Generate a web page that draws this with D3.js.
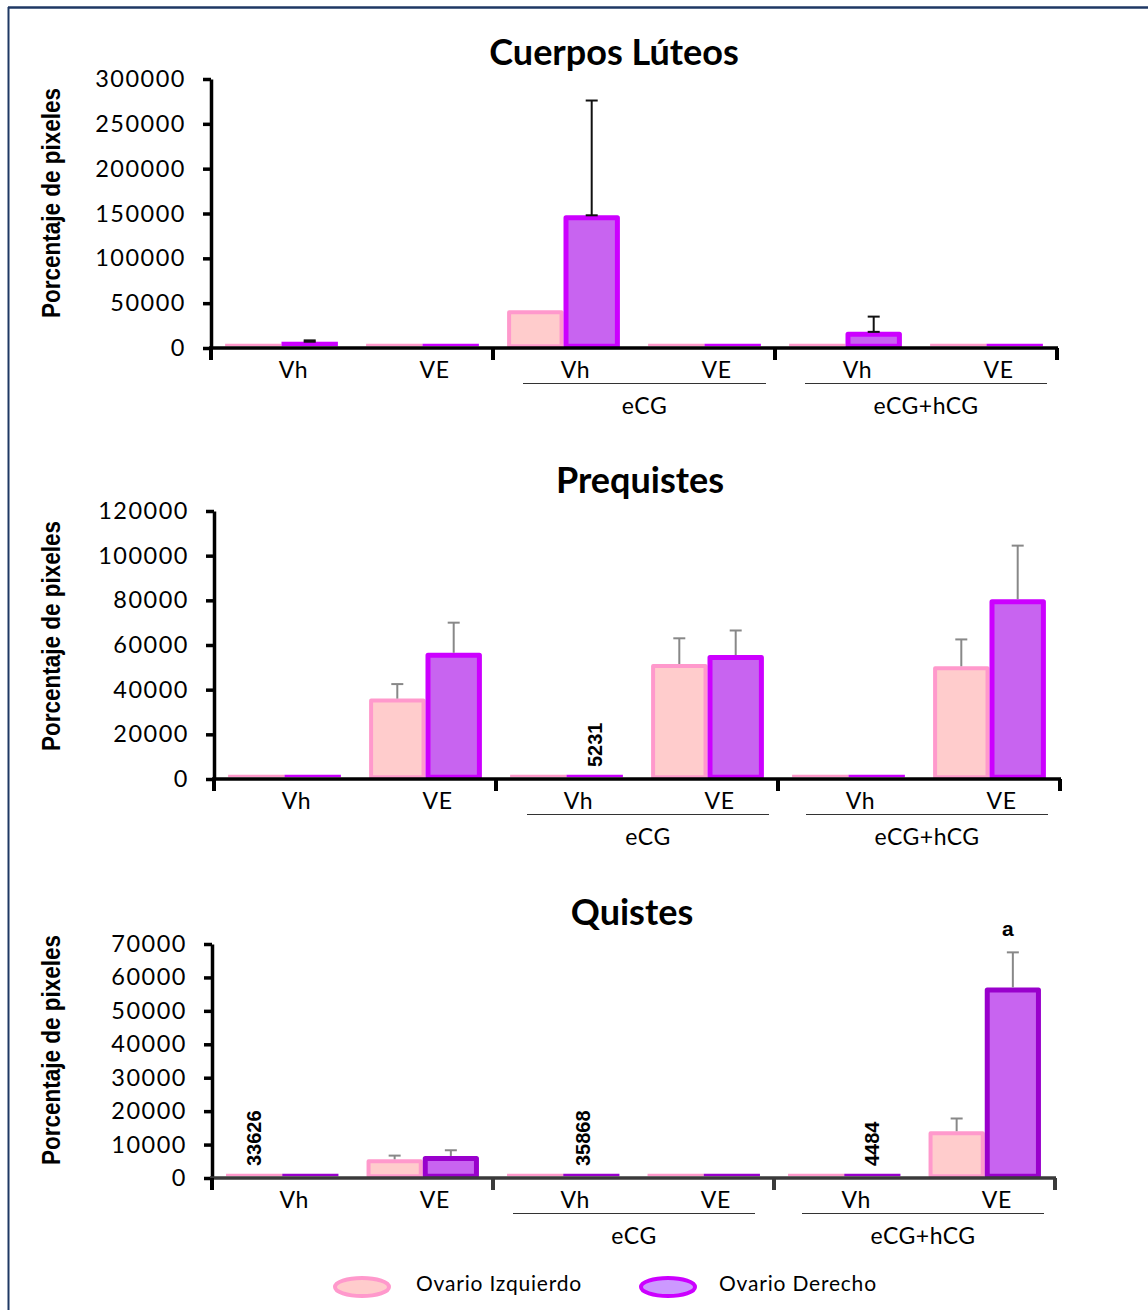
<!DOCTYPE html>
<html><head><meta charset="utf-8">
<script src="https://cdn.jsdelivr.net/npm/d3@7"></script>
<style>
body{margin:0;background:#fff;}
svg{display:block;}
</style></head>
<body>
<svg id="chart" width="1148" height="1310"></svg>
<script>
// ---------- DATA ----------
const groups = ["", "eCG", "eCG+hCG"];
const subCategories = ["Vh", "VE"];
const seriesNames = ["Ovario Izquierdo", "Ovario Derecho"];

// Cuerpos Lúteos
const cuerposIzq    = [300, 300, 42000, 300, 3000, 300];
const cuerposDer    = [7000, 500, 148000, 500, 18000, 500];
const cuerposIzqErr = [0, 0, 0, 0, 0, 0];
const cuerposDerErr = [1500, 0, 128000, 0, 17000, 0];
const cuerposTicks  = [0, 50000, 100000, 150000, 200000, 250000, 300000];

// Prequistes
const prequistesIzq    = [300, 36000, 300, 51500, 300, 50500];
const prequistesDer    = [300, 56500, 300, 55500, 300, 80500];
const prequistesIzqErr = [0, 6500, 0, 11500, 0, 12000];
const prequistesDerErr = [0, 13500, 0, 11000, 0, 24000];
const prequistesTicks  = [0, 20000, 40000, 60000, 80000, 100000, 120000];
const prequistesNotes  = [{cat: 2, s: 1, text: "5231"}];

// Quistes
const quistesIzq    = [150, 5600, 150, 150, 150, 14000];
const quistesDer    = [150, 6600, 150, 150, 150, 57000];
const quistesIzqErr = [0, 1100, 0, 0, 0, 3800];
const quistesDerErr = [0, 1700, 0, 0, 0, 10500];
const quistesTicks  = [0, 10000, 20000, 30000, 40000, 50000, 60000, 70000];
const quistesNotes  = [{cat: 0, s: 0, text: "33626"}, {cat: 2, s: 1, text: "35868", dx: -8}, {cat: 4, s: 1, text: "4484"}];
const quistesLetters = [{cat: 5, s: 1, text: "a"}];

// ---------- DRAW ----------
const svg = d3.select("#chart");
const FONT = "Lato, 'Open Sans', sans-serif";
const NARROW = "'Liberation Sans Narrow', 'Arial Narrow', 'Liberation Sans', sans-serif";

// frame
svg.append("line").attr("x1", 8).attr("x2", 1148).attr("y1", 7.5).attr("y2", 7.5)
  .attr("stroke", "#1f3864").attr("stroke-width", 2.5);
svg.append("line").attr("x1", 8.5).attr("x2", 8.5).attr("y1", 7).attr("y2", 1310)
  .attr("stroke", "#1f3864").attr("stroke-width", 2);

const catKeys = [];
groups.forEach((g, gi) => subCategories.forEach(s => catKeys.push(gi + "|" + s)));

function drawChart(cfg) {
  const g = svg.append("g");
  const x = d3.scaleBand().domain(catKeys).range([cfg.x0, cfg.x1]).padding(0);
  const xs = d3.scaleBand().domain([0, 1]).range([0, x.bandwidth()]).paddingInner(0).paddingOuter(0.25);
  const y = d3.scaleLinear().domain([0, cfg.max]).range([cfg.y0, cfg.yTop]);

  // title
  g.append("text").attr("x", cfg.titleX).attr("y", cfg.titleY).attr("text-anchor", "middle")
    .attr("font-family", FONT).attr("font-weight", "bold").attr("font-size", 36)
    .attr("fill", "#000").text(cfg.title);

  // y label
  g.append("text").attr("transform", `translate(${cfg.ylabX},${cfg.ylabY}) rotate(-90)`)
    .attr("text-anchor", "middle").attr("font-family", NARROW).attr("font-weight", "bold")
    .attr("font-size", 25).attr("textLength", 230).attr("lengthAdjust", "spacingAndGlyphs")
    .attr("fill", "#000").text("Porcentaje de pixeles");

  const colors = [
    {fill: "#ffcccc", stroke: "#ff99cc"},
    {fill: "#c864f0", stroke: cfg.derStroke}
  ];
  const vals = [cfg.izq, cfg.der];
  const errs = [cfg.izqErr, cfg.derErr];

  // bars
  [0, 1].forEach(si => {
    const sw = cfg.sw[si];
    const base = cfg.y0 - 1.75;
    vals[si].forEach((d, i) => {
      const bx = x(catKeys[i]) + xs(si);
      const top = y(d);
      if (base - top < sw + 2) {
        // near-zero value: thin outline sitting on the axis
        g.append("rect").attr("x", bx).attr("y", Math.min(top, base - 2.5))
          .attr("width", xs.bandwidth()).attr("height", base - Math.min(top, base - 2.5))
          .attr("fill", colors[si].stroke);
      } else {
        g.append("rect")
          .attr("x", bx + sw / 2).attr("y", top + sw / 2)
          .attr("width", xs.bandwidth() - sw)
          .attr("height", base - top - sw / 2)
          .attr("fill", colors[si].fill).attr("stroke", colors[si].stroke)
          .attr("stroke-width", sw).attr("stroke-linejoin", "round");
      }
    });
  });

  // error bars
  [0, 1].forEach(si => {
    vals[si].forEach((v, i) => {
      const e = errs[si][i];
      if (!e) return;
      const cx = x(catKeys[i]) + xs(si) + xs.bandwidth() / 2;
      g.append("line").attr("x1", cx).attr("x2", cx).attr("y1", y(v)).attr("y2", y(v + e))
        .attr("stroke", cfg.errColor).attr("stroke-width", 2);
      g.append("line").attr("x1", cx - 6).attr("x2", cx + 6).attr("y1", y(v + e)).attr("y2", y(v + e))
        .attr("stroke", cfg.errColor).attr("stroke-width", 2);
      if (cfg.lowerCap) {
        g.append("line").attr("x1", cx - 6).attr("x2", cx + 6).attr("y1", y(v)).attr("y2", y(v))
          .attr("stroke", cfg.errColor).attr("stroke-width", 2);
      }
    });
  });

  // y axis
  const yAxis = g.append("g").attr("transform", `translate(${cfg.x0},0)`)
    .call(d3.axisLeft(y).tickValues(cfg.ticks).tickFormat(d3.format("d")).tickSize(8).tickSizeOuter(0).tickPadding(17));
  yAxis.select(".domain").attr("stroke", "#000").attr("stroke-width", 3.5);
  yAxis.selectAll(".tick line").attr("stroke", "#000").attr("stroke-width", 3.5);
  yAxis.selectAll(".tick text").attr("font-family", FONT).attr("font-size", 23.5)
    .attr("letter-spacing", "1.5px").attr("fill", "#000");

  // x axis line
  g.append("line").attr("x1", cfg.x0 - 2).attr("x2", cfg.x1 + 1).attr("y1", cfg.y0).attr("y2", cfg.y0)
    .attr("stroke", cfg.xAxisColor).attr("stroke-width", 3.5);
  // group boundary ticks
  const gw = (cfg.x1 - cfg.x0) / groups.length;
  d3.range(groups.length + 1).forEach(k => {
    const tx = cfg.x0 + k * gw;
    g.append("line").attr("x1", tx).attr("x2", tx).attr("y1", cfg.y0).attr("y2", cfg.y0 + 12)
      .attr("stroke", k === 0 ? "#000" : cfg.xAxisColor).attr("stroke-width", 4);
  });

  // subcategory labels
  catKeys.forEach(k => {
    g.append("text").attr("x", x(k) + x.bandwidth() / 2 + 12).attr("y", cfg.y0 + 30)
      .attr("text-anchor", "middle").attr("font-family", FONT).attr("font-size", 23)
      .attr("letter-spacing", "0.5px").attr("fill", "#000").text(k.split("|")[1]);
  });

  // group labels and lines
  groups.forEach((name, gi) => {
    if (!name) return;
    const gs = cfg.x0 + gi * gw, ge = gs + gw;
    const ins = cfg.lineIn[gi];
    const l1 = gs + ins[0], l2 = ge - ins[1];
    g.append("line").attr("x1", l1).attr("x2", l2).attr("y1", cfg.y0 + 35.5).attr("y2", cfg.y0 + 35.5)
      .attr("stroke", "#333").attr("stroke-width", 1.2);
    g.append("text").attr("x", (l1 + l2) / 2).attr("y", cfg.y0 + 66)
      .attr("text-anchor", "middle").attr("font-family", FONT).attr("font-size", 23)
      .attr("letter-spacing", "0.5px").attr("fill", "#000").text(name);
  });

  // rotated numeric notes
  (cfg.notes || []).forEach(n => {
    const cx = x(catKeys[n.cat]) + xs(n.s) + xs.bandwidth() / 2 + (n.dx || 0);
    g.append("text").attr("transform", `translate(${cx + 7},${cfg.y0 - 12}) rotate(-90)`)
      .attr("text-anchor", "start").attr("font-family", NARROW).attr("font-weight", "bold")
      .attr("font-size", 20).attr("fill", "#000").text(n.text);
  });
  (cfg.letters || []).forEach(n => {
    const cx = x(catKeys[n.cat]) + xs(n.s) + xs.bandwidth() / 2 - 5;
    const top = cfg.der[n.cat] + cfg.derErr[n.cat];
    g.append("text").attr("x", cx).attr("y", y(top) - 16).attr("text-anchor", "middle")
      .attr("font-family", "'Liberation Sans', sans-serif").attr("font-weight", "bold")
      .attr("font-size", 21).attr("fill", "#000").text(n.text);
  });
}

drawChart({
  title: "Cuerpos Lúteos", titleX: 614, titleY: 65,
  ylabX: 60, ylabY: 203,
  x0: 211, x1: 1057, y0: 348, yTop: 79, max: 300000, ticks: cuerposTicks,
  izq: cuerposIzq, der: cuerposDer, izqErr: cuerposIzqErr, derErr: cuerposDerErr,
  derStroke: "#cc00ff", sw: [4, 5], errColor: "#111", lowerCap: true,
  xAxisColor: "#000", lineIn: [null, [30, 9], [30, 10]]
});

drawChart({
  title: "Prequistes", titleX: 640, titleY: 493,
  ylabX: 60, ylabY: 636,
  x0: 214, x1: 1060, y0: 779, yTop: 511, max: 120000, ticks: prequistesTicks,
  izq: prequistesIzq, der: prequistesDer, izqErr: prequistesIzqErr, derErr: prequistesDerErr,
  derStroke: "#cc00ff", sw: [4, 5], errColor: "#888", lowerCap: false,
  xAxisColor: "#000", lineIn: [null, [31, 9], [28, 12]], notes: prequistesNotes
});

drawChart({
  title: "Quistes", titleX: 632, titleY: 925,
  ylabX: 60, ylabY: 1050,
  x0: 212, x1: 1055, y0: 1178, yTop: 944, max: 70000, ticks: quistesTicks,
  izq: quistesIzq, der: quistesDer, izqErr: quistesIzqErr, derErr: quistesDerErr,
  derStroke: "#9900cc", sw: [4, 5], errColor: "#888", lowerCap: false,
  xAxisColor: "#3a3a3a", lineIn: [null, [20, 19], [28, 11]], notes: quistesNotes, letters: quistesLetters
});

// legend
const leg = svg.append("g");
const legItems = [
  {x: 362, tx: 416, fill: "#ffcccc", stroke: "#ff99cc", label: seriesNames[0]},
  {x: 668, tx: 719, fill: "#cc99ff", stroke: "#cc00ff", label: seriesNames[1]}
];
legItems.forEach(it => {
  leg.append("ellipse").attr("cx", it.x).attr("cy", 1287).attr("rx", 27).attr("ry", 9)
    .attr("fill", it.fill).attr("stroke", it.stroke).attr("stroke-width", 4);
  leg.append("text").attr("x", it.tx).attr("y", 1291).attr("font-family", FONT)
    .attr("font-size", 21).attr("letter-spacing", "0.8px").attr("fill", "#000").text(it.label);
});
</script>
</body></html>
